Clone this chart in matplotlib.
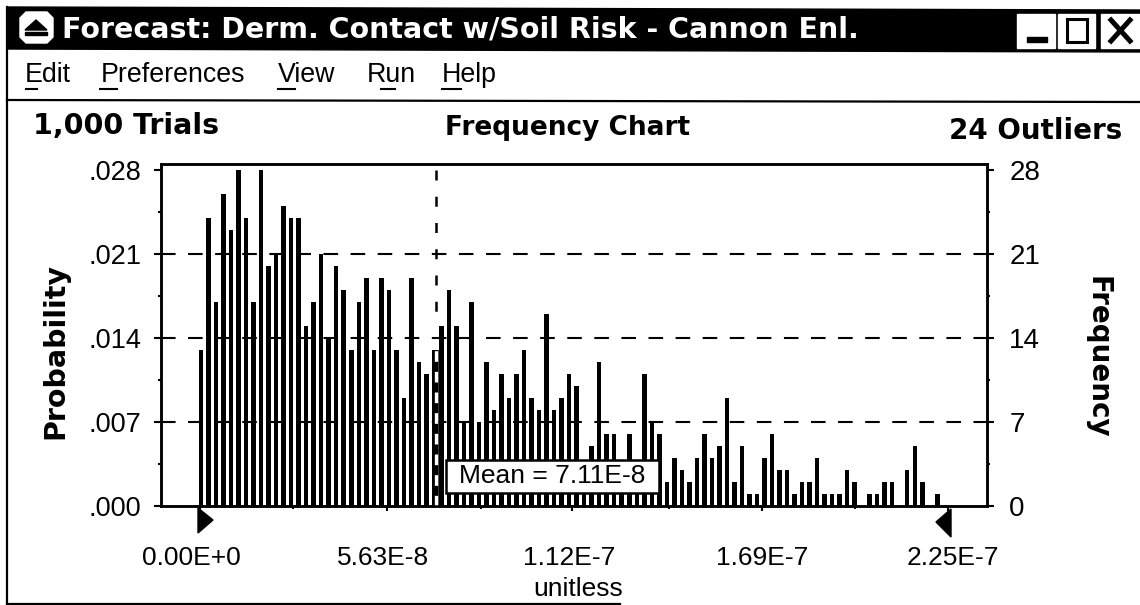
import matplotlib
matplotlib.use('Agg')
import matplotlib.pyplot as plt
from matplotlib.patches import Polygon, Rectangle
from matplotlib.transforms import ScaledTranslation

# counts per bin (bars behind the mean label are a guess)
frequency = [13, 24, 17, 26, 23, 28, 24, 17, 28, 20, 21, 25, 24, 24, 15, 17, 21, 14, 20, 18,
             13, 17, 19, 13, 19, 18, 13, 9, 19, 12, 11, 13, 15, 18, 15, 7, 17, 7, 12, 8,
             11, 9, 11, 13, 9, 8, 16, 8, 9, 11, 10, 3, 5, 12, 6, 6, 3, 6, 3, 11,
             7, 6, 2, 4, 3, 2, 4, 6, 4, 5, 9, 2, 5, 1, 1, 4, 6, 3, 3, 1,
             2, 2, 4, 1, 1, 1, 3, 2, 0, 1, 1, 2, 2, 0, 3, 5, 2, 0, 1, 0]
bin_width = 2.26e-9
trials = 1000
mean_value = 7.11e-8

x_ticks = [0, 5.63e-8, 1.12e-7, 1.69e-7, 2.25e-7]
x_tick_labels = ['0.00E+0', '5.63E-8', '1.12E-7', '1.69E-7', '2.25E-7']
x_label_shift = [-9, -4, -3, 0, 5]
x_minor = [2.81e-8, 8.44e-8, 1.41e-7, 1.97e-7]
freq_ticks = [0, 7, 14, 21, 28]
prob_tick_labels = ['.000', '.007', '.014', '.021', '.028']
freq_minor = [3.5, 10.5, 17.5, 24.5]

menu_items = ['Edit', 'Preferences', 'View', 'Run', 'Help']
menu_left = [25, 101, 278, 367, 442]
menu_underline = [(26, 37), (100, 117), (278, 295), (381, 395), (442, 461)]

W, H = 1140, 605
PLOT_L, PLOT_R, PLOT_T, PLOT_B = 161, 987, 164, 506
X_ZERO, X_END = 200, 948

plt.rcParams['font.family'] = ['Liberation Sans', 'DejaVu Sans']
BOLD = 'DejaVu Sans'

fig = plt.figure(figsize=(W / 100, H / 100), dpi=100)

# window chrome, in pixel coordinates (the scan is very slightly skewed)
ui = fig.add_axes([0, 0, 1, 1], zorder=0)
ui.set_xlim(0, W)
ui.set_ylim(H, 0)
ui.axis('off')

ui.add_patch(Polygon([(7, 7), (W, 10), (W, 52), (7, 49)], color='black'))
ui.plot([7, 7], [7, 604], color='black', lw=1.6)
ui.plot([7, 620], [604, 604], color='black', lw=1.6)
ui.plot([7, W], [100, 102], color='black', lw=1.6)

ui.add_patch(Polygon([(26, 12), (47, 12), (53, 18), (53, 37), (47, 43), (26, 43), (20, 37), (20, 18)],
                     color='white'))
ui.add_patch(Polygon([(36, 20), (47, 30), (25, 30)], color='black'))
ui.add_patch(Rectangle((25, 32), 22, 3, color='black'))

ui.text(62, 29, 'Forecast: Derm. Contact w/Soil Risk - Cannon Enl.', color='white',
        fontsize=20.5, fontweight='bold', family=BOLD, va='center', ha='left')

for left, right in [(1017, 1055), (1058, 1095), (1101, 1140)]:
    ui.add_patch(Rectangle((left, 14), right - left, 34, color='white'))
ui.add_patch(Rectangle((1027, 37), 20, 5, color='black'))
ui.add_patch(Rectangle((1067, 19), 20, 23, fill=False, edgecolor='black', lw=2.2))
ui.plot([1111, 1130], [20, 41], color='black', lw=3.6)
ui.plot([1130, 1111], [20, 41], color='black', lw=3.6)

for name, left in zip(menu_items, menu_left):
    ui.text(left, 75, name, fontsize=19.3, va='center', ha='left', color='black')
for start, end in menu_underline:
    ui.plot([start, end], [89, 89], color='black', lw=1.5)

ui.text(33, 126, '1,000 Trials', fontsize=20.5, fontweight='bold', family=BOLD, va='center')
ui.text(568, 128, 'Frequency Chart', fontsize=19, fontweight='bold', family=BOLD, va='center', ha='center')
ui.text(1122, 131, '24 Outliers', fontsize=20, fontweight='bold', family=BOLD, va='center', ha='right')
ui.text(55, 351, 'Probability', fontsize=20.5, fontweight='bold', family=BOLD, rotation=90, va='center', ha='center')
ui.text(1098, 357, 'Frequency', fontsize=20, fontweight='bold', family=BOLD, rotation=270, va='center', ha='center')
ui.text(578, 589, 'unitless', fontsize=19, va='center', ha='center')

ui.add_patch(Polygon([(198, 508), (198, 533), (213, 520)], color='black'))
ui.add_patch(Polygon([(951, 509), (951, 537), (936, 522)], color='black'))

# chart
ax = fig.add_axes([PLOT_L / W, 1 - PLOT_B / H, (PLOT_R - PLOT_L) / W, (PLOT_B - PLOT_T) / H], zorder=1)
ax.patch.set_alpha(0)
per_px = 2.25e-7 / (X_END - X_ZERO)
ax.set_xlim((PLOT_L - X_ZERO) * per_px, (PLOT_R - X_ZERO) * per_px)
ax.set_ylim(0, 28.5 / trials)

prob = [f / trials for f in frequency]
positions = [0.3e-9 + i * bin_width for i in range(len(prob))]
ax.bar(positions, prob, width=bin_width * 0.6, color='black', zorder=2)

for t in freq_ticks[1:4]:
    ax.plot(ax.get_xlim(), [t / trials, t / trials], color='black', lw=1.5,
            linestyle=(0, (7, 6)), zorder=3)

# mean line: black above the bars, knocked out in white where it crosses them
mean_bin_top = frequency[31] / trials
ax.plot([mean_value, mean_value], [freq_ticks[-1] / trials, frequency[32] / trials], color='black', lw=1.8,
        linestyle=(0, (4, 6.5)), zorder=4)
ax.plot([mean_value, mean_value], [0, mean_bin_top], color='black', lw=4, zorder=4, solid_capstyle='butt')
ax.plot([mean_value, mean_value], [0, mean_bin_top], color='white', lw=2.4,
        linestyle=(0, (3.2, 3)), zorder=5)

# mean label box, placed in pixels like the window chrome
box_x0 = (446 - X_ZERO) * per_px
box_x1 = (659 - X_ZERO) * per_px
box_y0 = (PLOT_B - 492.5) / (PLOT_B - PLOT_T) * 28.5 / trials
box_y1 = (PLOT_B - 460) / (PLOT_B - PLOT_T) * 28.5 / trials
ax.add_patch(Rectangle((box_x0, box_y0), box_x1 - box_x0, box_y1 - box_y0, facecolor='white',
                       edgecolor='black', linewidth=1.8, zorder=6))
ax.text((box_x0 + box_x1) / 2, (box_y0 + box_y1) / 2, 'Mean = 7.11E-8', fontsize=19, ha='center',
        va='center', zorder=7)

for side in ax.spines.values():
    side.set_linewidth(1.8)

ax.set_xticks(x_ticks, labels=x_tick_labels)
ax.set_xticks(x_minor, minor=True)
ax.set_yticks([t / trials for t in freq_ticks], labels=prob_tick_labels)
ax.set_yticks([t / trials for t in freq_minor], minor=True)
ax.tick_params(axis='x', which='major', length=3.5, width=1.5, pad=25, labelsize=19)
ax.tick_params(axis='x', which='minor', length=2, width=1.5)
ax.tick_params(axis='y', which='major', length=5, width=1.5, pad=9, labelsize=19.5)
ax.tick_params(axis='y', which='minor', length=2, width=1.5)

for label, shift in zip(ax.get_xticklabels(), x_label_shift):
    label.set_transform(label.get_transform() + ScaledTranslation(shift / 100, 0, fig.dpi_scale_trans))

ax_f = ax.twinx()
ax_f.set_ylim(0, 28.5)
ax_f.set_yticks(freq_ticks, labels=[str(t) for t in freq_ticks])
ax_f.set_yticks(freq_minor, minor=True)
ax_f.tick_params(axis='y', which='major', length=5, width=1.5, pad=11, labelsize=20)
ax_f.tick_params(axis='y', which='minor', length=2, width=1.5)
for side in ax_f.spines.values():
    side.set_linewidth(1.8)

fig.savefig('out.png', dpi=100)
